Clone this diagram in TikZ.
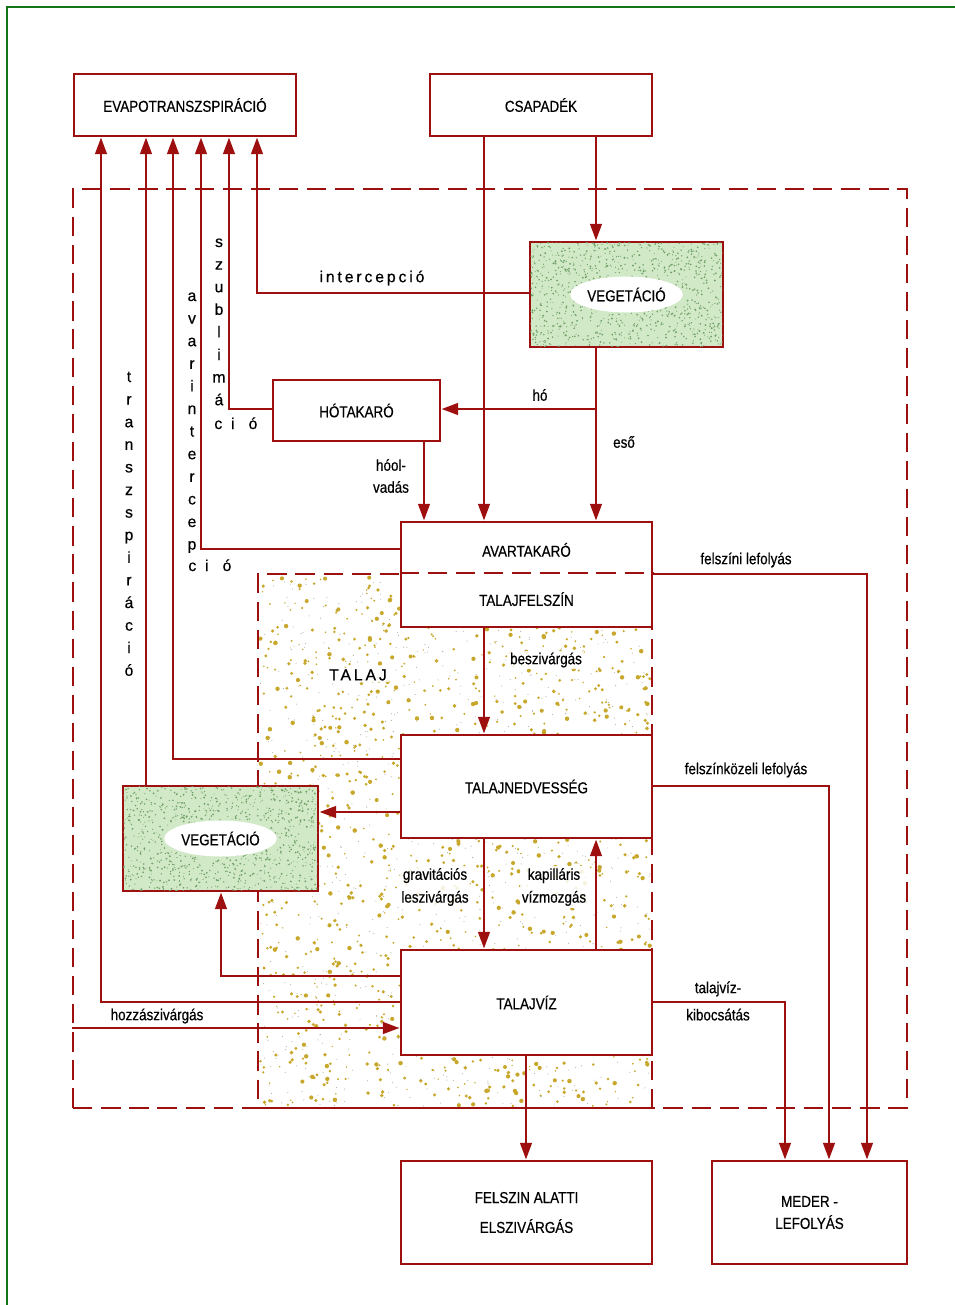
\documentclass[tikz,border=0pt]{standalone}
\usepackage{fontspec}
\setmainfont{Liberation Sans}[FakeStretch=0.85, FakeBold=0.5]
\newfontfamily\widesans{Liberation Sans}[FakeBold=0.5]
\usetikzlibrary{arrows.meta,shapes.geometric}

\definecolor{flowred}{RGB}{158,16,16}
\definecolor{leafgreen}{RGB}{210,233,200}
\definecolor{leafdot}{RGB}{112,162,104}
\definecolor{soildot}{RGB}{200,168,44}
\definecolor{soilgrey}{RGB}{165,165,145}
\definecolor{framegreen}{RGB}{20,115,20}

\tikzset{
  box/.style={draw=flowred, line width=1.6pt, fill=white, minimum width=5.02cm, minimum height=2.1cm,
    font=\fontsize{9}{14}\selectfont, align=center},
  flow/.style={draw=flowred, line width=1.6pt, -{Triangle[length=9.5pt,width=6.5pt]}},
  link/.style={draw=flowred, line width=1.6pt},
  zone/.style={draw=flowred, line width=1.1pt, dash pattern=on 11pt off 5pt, minimum width=1cm},
  lbl/.style={font=\fontsize{9}{13}\selectfont, align=center, inner sep=1pt},
  clear/.style={fill=white, fill opacity=0.85, text opacity=1},
  vletter/.style={font=\widesans\fontsize{9}{11}\selectfont, anchor=base, inner sep=0pt},
  spaced/.style={font=\widesans\fontsize{9}{11}\selectfont\addfontfeature{LetterSpace=18}, inner sep=1pt},
  oval/.style={ellipse, fill=white, inner sep=0pt, minimum width=2.25cm, minimum height=0.72cm,
    font=\fontsize{9}{11}\selectfont},
}

\begin{document}
\begin{tikzpicture}[x=0.02cm, y=-0.02cm]
\useasboundingbox (0,0) rectangle (955,1305);
\draw[framegreen, line width=1.7pt] (7,1305) -- (7,7) -- (955,7);

% soil texture
\pgfmathsetseed{17}
\foreach \i in {1,...,1300}
  \fill[soildot] ({260+390*rnd},{576+530*rnd}) circle ({0.4pt+0.9pt*rnd});
\foreach \i in {1,...,800}
  \fill[soilgrey] ({260+390*rnd},{576+530*rnd}) circle (0.3pt);

\node (zone) [zone] at (490,648.5) [minimum width=16.68cm, minimum height=18.38cm] {};
\node (talaj) [zone, minimum width=7.88cm, minimum height=10.68cm] at (455,841) {};

% boxes
\node (evapo) [box, minimum width=4.44cm, minimum height=1.24cm] at (185,105) {EVAPOTRANSZSPIRÁCIÓ};
\node (csapadek) [box, minimum width=4.44cm, minimum height=1.24cm] at (541,105) {CSAPADÉK};
\node (vegtop) [box, fill=leafgreen, minimum width=3.86cm, minimum height=2.1cm] at (626.5,294.5) {};
\node (hotakaro) [box, minimum width=3.34cm, minimum height=1.22cm] at (356.5,410.5) {HÓTAKARÓ};
\node (avar) [box] at (526.5,574.5) {AVARTAKARÓ\\[14pt]TALAJFELSZÍN};
\node (nedv) [box, minimum height=2.06cm] at (526.5,786.5) {TALAJNEDVESSÉG};
\node (vegbot) [box, fill=leafgreen, minimum width=3.9cm, minimum height=2.1cm] at (220.5,838.5) {};
\node (talajviz) [box] at (526.5,1002.5) {TALAJVÍZ};
\node (felszin) [box, minimum height=2.06cm] at (526.5,1212.5) {FELSZIN ALATTI\\[3pt]ELSZIVÁRGÁS};
\node (meder) [box, minimum width=3.9cm, minimum height=2.06cm, font=\fontsize{9}{12.5}\selectfont] at (809.5,1212.5) {MEDER -\\LEFOLYÁS};
\draw[zone] (avar.west |- talaj.north) -- (avar.east |- talaj.north);

% vegetation texture
\begin{scope}
  \clip ([shift={(1pt,-1pt)}]vegtop.north west) rectangle ([shift={(-1pt,1pt)}]vegtop.south east);
  \foreach \i in {1,...,1000}
    \fill[leafdot] ({530+193*rnd},{242+105*rnd}) circle ({0.25pt+0.35pt*rnd});
\end{scope}
\begin{scope}
  \clip ([shift={(1pt,-1pt)}]vegbot.north west) rectangle ([shift={(-1pt,1pt)}]vegbot.south east);
  \foreach \i in {1,...,1000}
    \fill[leafdot] ({123+195*rnd},{786+105*rnd}) circle ({0.25pt+0.35pt*rnd});
\end{scope}
\node (vegtoptxt) [oval] at (vegtop.center) {VEGETÁCIÓ};
\node (vegbottxt) [oval] at (vegbot.center) {VEGETÁCIÓ};

% columns and rows of the connectors
\coordinate (xT) at (101,0);  \coordinate (xV) at (146,0);  \coordinate (xN) at (173,0);
\coordinate (xAv) at (201,0); \coordinate (xSz) at (229,0); \coordinate (xI) at (257,0);
\coordinate (xVg) at (221,0); \coordinate (xHo) at (424,0); \coordinate (xC) at (484,0);
\coordinate (xF) at (526,0);  \coordinate (xR) at (596,0);  \coordinate (xK) at (785,0);
\coordinate (xKz) at (829,0); \coordinate (xFl) at (867,0);
\coordinate (yI) at (0,293);  \coordinate (yHo) at (0,409); \coordinate (yAv) at (0,549);
\coordinate (yFl) at (0,574); \coordinate (yN1) at (0,759); \coordinate (yN3) at (0,786);
\coordinate (yN2) at (0,812); \coordinate (yT1) at (0,976); \coordinate (yT2) at (0,1002);
\coordinate (yT3) at (0,1028);

\draw[flow] (vegtop.west |- yI) -| (xI |- evapo.south);
\draw[flow] (xR |- csapadek.south) -- (xR |- vegtop.north);
\draw[flow] (xC |- csapadek.south) -- (xC |- avar.north);
\draw[flow] (xR |- vegtop.south) -- (xR |- avar.north);
\draw[flow] (xR |- yHo) -- (hotakaro.east |- yHo);
\draw[flow] (hotakaro.west |- yHo) -| (xSz |- evapo.south);
\draw[flow] (xHo |- hotakaro.south) -- (xHo |- avar.north);
\draw[flow] (avar.west |- yAv) -| (xAv |- evapo.south);
\draw[flow] (avar.east |- yFl) -| (xFl |- meder.north);
\draw[flow] (xC |- avar.south) -- (xC |- nedv.north);
\draw[flow] (nedv.west |- yN1) -| (xN |- evapo.south);
\draw[flow] (nedv.west |- yN2) -- (vegbot.east |- yN2);
\draw[flow] (xV |- vegbot.north) -- (xV |- evapo.south);
\draw[flow] (nedv.east |- yN3) -| (xKz |- meder.north);
\draw[flow] (xC |- nedv.south) -- (xC |- talajviz.north);
\draw[flow] (xR |- talajviz.north) -- (xR |- nedv.south);
\draw[flow] (talajviz.west |- yT1) -| (xVg |- vegbot.south);
\draw[flow] (talajviz.west |- yT2) -| (xT |- evapo.south);
\draw[flow] (zone.west |- yT3) -- (talajviz.west |- yT3);
\draw[flow] (talajviz.east |- yT2) -| (xK |- meder.north);
\draw[flow] (xF |- talajviz.south) -- (xF |- felszin.north);

% labels
\node (lInt) [spaced] at (372,278) {intercepció};
\node (lTalaj) [spaced, clear] at (358,675) {TALAJ};
\node (lHo) [lbl] at (540,395) {hó};
\node (lEso) [lbl] at (624,442) {eső};
\node (lOlv) [lbl, font=\fontsize{9}{12.5}\selectfont] at (391,476) {hóol-\\vadás};
\node (lFelsz) [lbl] at (746,560) {felszíni lefolyás};
\node (lBesz) [lbl, clear] at (546,660) {beszivárgás};
\node (lKoz) [lbl] at (746,770) {felszínközeli lefolyás};
\node (lGrav) [lbl, clear] at (435,887) {gravitációs\\leszivárgás};
\node (lKap) [lbl, clear] at (554,887) {kapilláris\\vízmozgás};
\node (lKib) [lbl, font=\fontsize{9}{15.5}\selectfont] at (718,1001) {talajvíz-\\kibocsátás};
\node (lHozz) [lbl] at (157,1016) {hozzászivárgás};

\foreach \ch [count=\k] in {t,r,a,n,s,z,s,p,i,r,á,c,i,ó}
  \node (tr\k) [vletter] at (129,{382+22.6*(\k-1)}) {\ch};
\foreach \ch [count=\k] in {a,v,a,r,i,n,t,e,r,c,e,p}
  \node (av\k) [vletter] at (192,{301+22.6*(\k-1)}) {\ch};
\foreach \ch [count=\k] in {s,z,u,b,l,i,m,á}
  \node (sz\k) [vletter] at (219,{247+22.6*(\k-1)}) {\ch};
\node (avEnd) [vletter, anchor=base west] at (188,571) {c\hspace{5pt}i\hspace{8pt}ó};
\node (szEnd) [vletter, anchor=base west] at (214,429) {c\hspace{5pt}i\hspace{8pt}ó};
\end{tikzpicture}
\end{document}
